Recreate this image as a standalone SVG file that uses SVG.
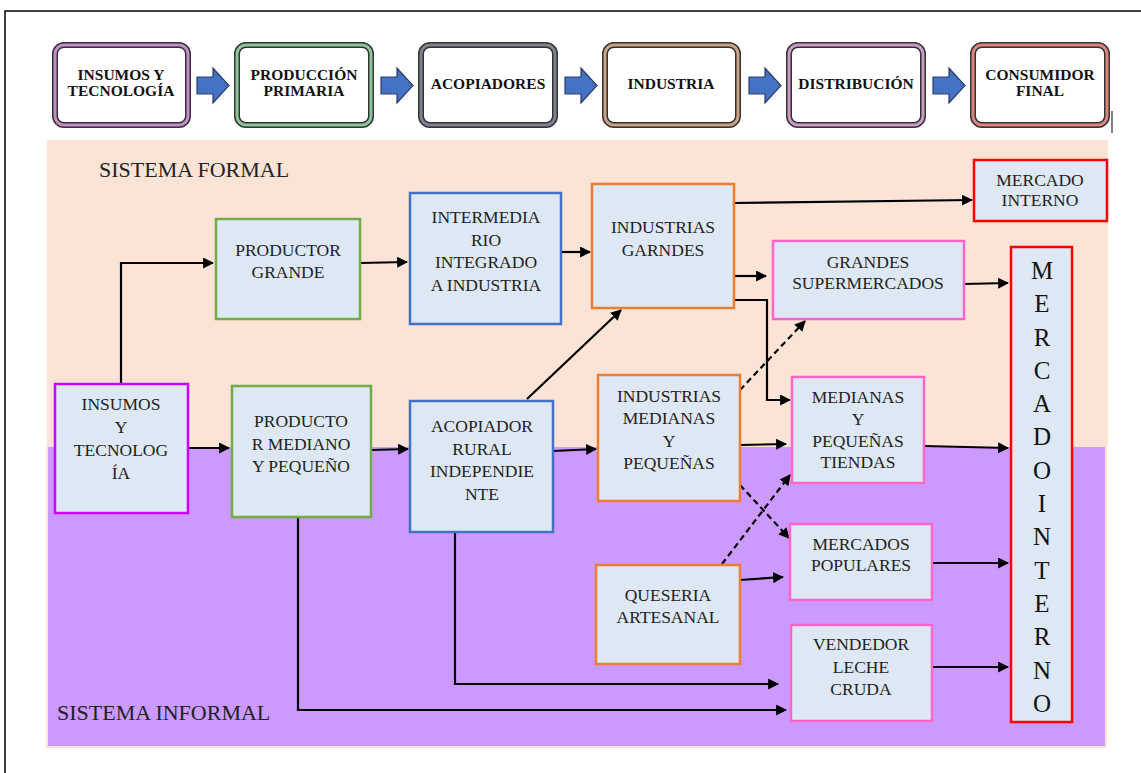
<svg xmlns="http://www.w3.org/2000/svg" width="1141" height="773" viewBox="0 0 1141 773">
<defs>
<style>
.t{font-family:"Liberation Serif","Times New Roman",serif;font-size:17.5px;fill:#222;text-anchor:middle}
.h{font-family:"Liberation Serif","Times New Roman",serif;font-size:15.5px;font-weight:bold;fill:#111;text-anchor:middle}
.v{font-family:"Liberation Serif","Times New Roman",serif;font-size:25px;fill:#111;text-anchor:middle}
.sys{font-family:"Liberation Serif","Times New Roman",serif;font-size:22px;fill:#222}
.n{fill:#dee8f4;stroke-width:2.5}
.hb{fill:#fff;stroke:#333;stroke-width:6}
.c{fill:none;stroke:#000;stroke-width:2.2}
.d{fill:none;stroke:#000;stroke-width:2.2;stroke-dasharray:6 4}
.ba{fill:#4472c4;stroke:#2a3d66;stroke-width:1.2}
</style>
<marker id="ah" viewBox="0 0 10 10" refX="9" refY="5" markerWidth="5" markerHeight="5" orient="auto" markerUnits="strokeWidth">
<path d="M0,0 L10,5 L0,10 z" fill="#000"/>
</marker>
</defs>
<rect x="0" y="0" width="1141" height="773" fill="#fff"/>
<path d="M5,773 V11 H1141" fill="none" stroke="#000" stroke-width="1.5"/>
<line x1="1112" y1="111" x2="1112" y2="133" stroke="#000" stroke-width="1"/>

<!-- header -->
<g id="h1"><rect class="hb" x="55" y="45" width="133" height="80" rx="9"/><rect x="55" y="45" width="133" height="80" rx="9" fill="none" stroke="#c58ccb" stroke-width="3"/><text class="h" x="121" y="80">INSUMOS Y</text><text class="h" x="121" y="96">TECNOLOGÍA</text></g>
<g id="h2"><rect class="hb" x="237" y="45" width="134" height="80" rx="9"/><rect x="237" y="45" width="134" height="80" rx="9" fill="none" stroke="#8cc79c" stroke-width="3"/><text class="h" x="304" y="80">PRODUCCIÓN</text><text class="h" x="304" y="96">PRIMARIA</text></g>
<g id="h3"><rect class="hb" x="421" y="45" width="134" height="80" rx="9"/><rect x="421" y="45" width="134" height="80" rx="9" fill="none" stroke="#7c8290" stroke-width="3"/><text class="h" x="488" y="89">ACOPIADORES</text></g>
<g id="h4"><rect class="hb" x="605" y="45" width="133" height="80" rx="9"/><rect x="605" y="45" width="133" height="80" rx="9" fill="none" stroke="#c9a287" stroke-width="3"/><text class="h" x="671" y="89">INDUSTRIA</text></g>
<g id="h5"><rect class="hb" x="789" y="45" width="134" height="80" rx="9"/><rect x="789" y="45" width="134" height="80" rx="9" fill="none" stroke="#c99bc6" stroke-width="3"/><text class="h" x="856" y="89">DISTRIBUCIÓN</text></g>
<g id="h6"><rect class="hb" x="973" y="45" width="134" height="80" rx="9"/><rect x="973" y="45" width="134" height="80" rx="9" fill="none" stroke="#d9837d" stroke-width="3"/><text class="h" x="1040" y="80">CONSUMIDOR</text><text class="h" x="1040" y="96">FINAL</text></g>
<g id="harrows">
<path class="ba" d="M197,77 H213 V68 L229,85.5 L213,103 V94 H197 Z"/>
<path class="ba" d="M381,77 H397 V68 L413,85.5 L397,103 V94 H381 Z"/>
<path class="ba" d="M565,77 H581 V68 L597,85.5 L581,103 V94 H565 Z"/>
<path class="ba" d="M749,77 H765 V68 L781,85.5 L765,103 V94 H749 Z"/>
<path class="ba" d="M933,77 H949 V68 L965,85.5 L949,103 V94 H933 Z"/>
</g>

<!-- backgrounds -->
<rect x="47" y="140" width="1061" height="306" fill="#fbe4d5"/>
<rect x="47" y="446" width="1059" height="301" fill="#cc99ff" stroke="#fbe4d5" stroke-width="2"/>
<text class="sys" x="99" y="177">SISTEMA FORMAL</text>
<text class="sys" x="57" y="720">SISTEMA INFORMAL</text>

<!-- connectors -->
<g id="connectors">
<path class="c" d="M121,383 V263 H213" marker-end="url(#ah)"/>
<path class="c" d="M188,448 H229" marker-end="url(#ah)"/>
<path class="c" d="M360,263 L407,262" marker-end="url(#ah)"/>
<path class="c" d="M561,252 L590,252" marker-end="url(#ah)"/>
<path class="c" d="M371,450 L408,449" marker-end="url(#ah)"/>
<path class="c" d="M553,451 L596,449" marker-end="url(#ah)"/>
<path class="c" d="M527,399 L621,310" marker-end="url(#ah)"/>
<path class="c" d="M734,203 L972,200" marker-end="url(#ah)"/>
<path class="c" d="M734,276 H766" marker-end="url(#ah)"/>
<path class="c" d="M734,300 H767 V400 H790" marker-end="url(#ah)"/>
<path class="d" d="M740,390 L805,321" marker-end="url(#ah)"/>
<path class="c" d="M740,445 L786,444" marker-end="url(#ah)"/>
<path class="d" d="M740,485 L789,538" marker-end="url(#ah)"/>
<path class="d" d="M722,564 L790,475" marker-end="url(#ah)"/>
<path class="c" d="M740,580 L783,577" marker-end="url(#ah)"/>
<path class="c" d="M964,284 L1008,283" marker-end="url(#ah)"/>
<path class="c" d="M924,446 L1008,448" marker-end="url(#ah)"/>
<path class="c" d="M932,563 H1008" marker-end="url(#ah)"/>
<path class="c" d="M932,667 H1008" marker-end="url(#ah)"/>
<path class="c" d="M455,532 V684 H778" marker-end="url(#ah)"/>
<path class="c" d="M298,517 V710 H786" marker-end="url(#ah)"/>
</g>

<!-- nodes -->
<g id="insumos"><rect class="n" x="55" y="384" width="133" height="129" stroke="#cc00ff"/><text class="t" x="121" y="410">INSUMOS</text><text class="t" x="121" y="433">Y</text><text class="t" x="121" y="456">TECNOLOG</text><text class="t" x="121" y="479">ÍA</text></g>
<g id="productor-grande"><rect class="n" x="216" y="219" width="144" height="100" stroke="#70ad47"/><text class="t" x="288" y="256">PRODUCTOR</text><text class="t" x="288" y="278">GRANDE</text></g>
<g id="productor-mediano"><rect class="n" x="232" y="386" width="139" height="131" stroke="#70ad47"/><text class="t" x="301" y="427">PRODUCTO</text><text class="t" x="301" y="450">R MEDIANO</text><text class="t" x="301" y="472">Y PEQUEÑO</text></g>
<g id="intermediario"><rect class="n" x="410" y="193" width="151" height="131" stroke="#4472c4"/><text class="t" x="486" y="223">INTERMEDIA</text><text class="t" x="486" y="246">RIO</text><text class="t" x="486" y="268">INTEGRADO</text><text class="t" x="486" y="291">A INDUSTRIA</text></g>
<g id="acopiador"><rect class="n" x="410" y="401" width="143" height="131" stroke="#4472c4"/><text class="t" x="482" y="432">ACOPIADOR</text><text class="t" x="482" y="455">RURAL</text><text class="t" x="482" y="477">INDEPENDIE</text><text class="t" x="482" y="500">NTE</text></g>
<g id="ind-grandes"><rect class="n" x="592" y="184" width="142" height="124" stroke="#ed7d31"/><text class="t" x="663" y="233">INDUSTRIAS</text><text class="t" x="663" y="256">GARNDES</text></g>
<g id="ind-medianas"><rect class="n" x="598" y="375" width="142" height="126" stroke="#ed7d31"/><text class="t" x="669" y="402">INDUSTRIAS</text><text class="t" x="669" y="424">MEDIANAS</text><text class="t" x="669" y="447">Y</text><text class="t" x="669" y="469">PEQUEÑAS</text></g>
<g id="queseria"><rect class="n" x="596" y="565" width="144" height="99" stroke="#ed7d31"/><text class="t" x="668" y="601">QUESERIA</text><text class="t" x="668" y="623">ARTESANAL</text></g>
<g id="mercado-interno-top"><rect class="n" x="974" y="160" width="133" height="61" stroke="#ff0000"/><text class="t" x="1040" y="186">MERCADO</text><text class="t" x="1040" y="206">INTERNO</text></g>
<g id="supermercados"><rect class="n" x="773" y="241" width="191" height="78" stroke="#ff66cc"/><text class="t" x="868" y="268">GRANDES</text><text class="t" x="868" y="289">SUPERMERCADOS</text></g>
<g id="tiendas"><rect class="n" x="792" y="377" width="132" height="106" stroke="#ff66cc"/><text class="t" x="858" y="403">MEDIANAS</text><text class="t" x="858" y="425">Y</text><text class="t" x="858" y="447">PEQUEÑAS</text><text class="t" x="858" y="468">TIENDAS</text></g>
<g id="populares"><rect class="n" x="790" y="524" width="142" height="76" stroke="#ff66cc"/><text class="t" x="861" y="550">MERCADOS</text><text class="t" x="861" y="571">POPULARES</text></g>
<g id="vendedor"><rect class="n" x="791" y="625" width="141" height="96" stroke="#ff66cc"/><text class="t" x="861" y="650">VENDEDOR</text><text class="t" x="861" y="673">LECHE</text><text class="t" x="861" y="695">CRUDA</text></g>
<g id="mercado-interno-v"><rect class="n" x="1011" y="247" width="61" height="475" stroke="#ff0000"/>
<text class="v" x="1042" y="279">M</text><text class="v" x="1042" y="312">E</text><text class="v" x="1042" y="346">R</text><text class="v" x="1042" y="379">C</text><text class="v" x="1042" y="412">A</text><text class="v" x="1042" y="445">D</text><text class="v" x="1042" y="479">O</text><text class="v" x="1042" y="512">I</text><text class="v" x="1042" y="545">N</text><text class="v" x="1042" y="579">T</text><text class="v" x="1042" y="612">E</text><text class="v" x="1042" y="645">R</text><text class="v" x="1042" y="679">N</text><text class="v" x="1042" y="712">O</text>
</g>
</svg>
